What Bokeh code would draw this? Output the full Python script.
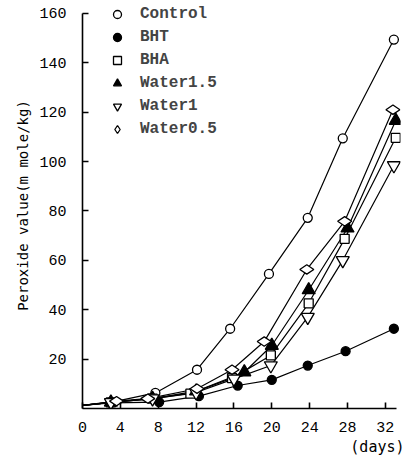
import math
from bokeh.plotting import figure
from bokeh.models import Range1d, FixedTicker, Legend, LegendItem, Title
from bokeh.embed import file_html
from bokeh.resources import INLINE

# ---- data ----
series_names = ["Control", "BHT", "BHA", "Water1.5", "Water1", "Water0.5"]

control_days = [0, 3.0, 7.7, 12.1, 15.6, 19.7, 23.8, 27.5, 32.9]
control_vals = [1.3, 2.5, 6.3, 15.7, 32.3, 54.5, 77.2, 109.4, 149.4]

bht_days = [0, 3.0, 8.1, 12.3, 16.4, 20.0, 23.8, 27.8, 32.9]
bht_vals = [1.3, 2.3, 2.6, 5.0, 9.3, 11.6, 17.4, 23.2, 32.3]

bha_days = [0, 3.0, 7.4, 11.4, 15.8, 19.9, 23.9, 27.7, 33.1]
bha_vals = [1.3, 2.5, 4.0, 6.0, 12.3, 21.5, 42.6, 68.7, 109.6]

w15_days = [0, 3.0, 7.4, 12.0, 17.1, 20.0, 23.9, 28.0, 33.1]
w15_vals = [1.3, 2.5, 4.0, 7.0, 14.7, 25.5, 48.0, 73.0, 116.6]

w1_days = [0, 3.0, 7.4, 12.0, 16.0, 19.9, 23.8, 27.5, 32.9]
w1_vals = [1.3, 2.5, 4.0, 6.5, 12.0, 17.4, 37.0, 60.0, 98.4]

w05_days = [0, 3.6, 6.9, 12.1, 15.8, 19.2, 23.7, 27.7, 32.8]
w05_vals = [1.3, 3.0, 4.0, 8.0, 15.7, 27.1, 56.3, 75.8, 121.0]

x_ticks = [0, 4, 8, 12, 16, 20, 24, 28, 32]
y_ticks = [20, 40, 60, 80, 100, 120, 140, 160]
y_title = "Peroxide value(m mole/kg)"
x_title = "(days)"

p = figure(width=414, height=461, output_backend="svg", toolbar_location=None,
           x_range=Range1d(0, 33.6), y_range=Range1d(0, 164.4),
           min_border_left=82, min_border_right=14, min_border_top=2,
           min_border_bottom=53)
p.outline_line_color = None
p.xgrid.visible = False
p.ygrid.visible = False
p.background_fill_color = "white"

tick_font = "Liberation Mono"
for ax in (p.xaxis[0], p.yaxis[0]):
    ax.axis_line_width = 1.6
    ax.axis_line_color = "black"
    ax.major_tick_in = 6
    ax.major_tick_out = 0
    ax.major_tick_line_width = 1.6
    ax.minor_tick_line_color = None
    ax.major_label_text_font = tick_font
    ax.major_label_text_font_size = "15px"
    ax.major_label_text_color = "black"

p.xaxis.ticker = FixedTicker(ticks=x_ticks)
p.yaxis.ticker = FixedTicker(ticks=y_ticks)
p.xaxis.bounds = (0, 33.2)
p.yaxis.bounds = (0, 160)
p.xaxis.major_label_standoff = 13
p.yaxis.major_label_standoff = 16

p.add_layout(Title(text=y_title, align="center", offset=41, standoff=11,
                   text_font="DejaVu Sans Mono", text_font_size="14px",
                   text_font_style="normal", text_color="black"), "left")
p.add_layout(Title(text=x_title, align="right", offset=-4, standoff=2,
                   text_font="DejaVu Sans Mono", text_font_size="15px",
                   text_font_style="normal", text_color="black"), "below")

data = [
    (control_days, control_vals, "circle", "white", 9, 0),
    (bht_days, bht_vals, "circle", "black", 9, 0),
    (bha_days, bha_vals, "square", "white", 9, 0),
    (w15_days, w15_vals, "triangle", "black", 13, 0),
    (w1_days, w1_vals, "inverted_triangle", "white", 13, 0),
    (w05_days, w05_vals, "diamond", "white", 14, math.pi / 2),
]

for d, v, *_ in data:
    p.line(d, v, line_color="black", line_width=1.2)

marker_renderers = []
for d, v, mk, fill, size, ang in data:
    r = p.scatter(d[1:], v[1:], marker=mk, size=size, fill_color=fill,
                  line_color="black", line_width=1.3, angle=ang)
    marker_renderers.append(r)

items = [LegendItem(label=n, renderers=[r]) for n, r in zip(series_names, marker_renderers)]
legend = Legend(items=items, location=(25, 269), orientation="vertical",
                label_text_font="Liberation Mono", label_text_font_style="bold",
                label_text_font_size="16px", label_height=20, glyph_height=20,
                glyph_width=20, spacing=3, padding=0, margin=0, label_standoff=13,
                background_fill_alpha=0, border_line_alpha=0)
p.add_layout(legend, "center")

open("out.html", "w").write(file_html(p, INLINE))
